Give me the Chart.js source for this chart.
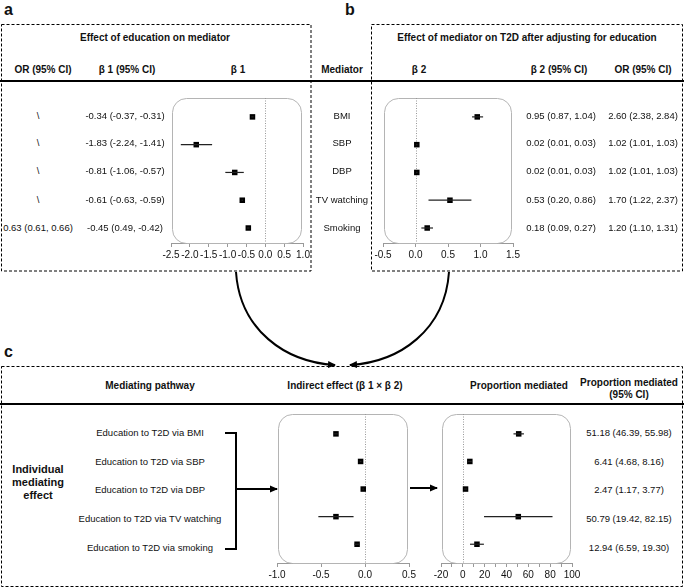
<!DOCTYPE html>
<html>
<head>
<meta charset="utf-8">
<script src="https://cdn.jsdelivr.net/npm/chart.js@4.4.0/dist/chart.umd.min.js"></script>
<style>
  html, body { margin: 0; padding: 0; background: #fff; }
  #fig { position: relative; width: 684px; height: 588px; overflow: hidden;
         font-family: "Liberation Sans", Arial, sans-serif; color: #111; }
  .t { position: absolute; white-space: nowrap; transform: translate(-50%, -50%);
       font-size: 9.5px; line-height: 1.2; text-align: center; }
  .h { font-weight: bold; font-size: 10px; }
  .big { font-weight: bold; font-size: 11px; }
  .lab { position: absolute; font-weight: bold; font-size: 16px; line-height: 1; }
  canvas { position: absolute; }
  svg { position: absolute; left: 0; top: 0; }
</style>
</head>
<body>
<div id="fig">
  <svg width="684" height="588">
    <defs>
      <marker id="ah" markerWidth="8" markerHeight="8" refX="7" refY="4" orient="auto" markerUnits="userSpaceOnUse">
        <path d="M0,0.5 L8,4 L0,7.5 z" fill="#000"/>
      </marker>
    </defs>
    <!-- dashed panel frames -->
    <rect x="1.5" y="24.5" width="309.5" height="246.5" fill="none" stroke="#000" stroke-width="1" stroke-dasharray="3,2"/>
    <rect x="371.5" y="24.5" width="311" height="246.5" fill="none" stroke="#000" stroke-width="1" stroke-dasharray="3,2"/>
    <rect x="1.5" y="366.5" width="681" height="220" fill="none" stroke="#000" stroke-width="1" stroke-dasharray="3,2"/>
    <!-- header rules -->
    <line x1="0" y1="81" x2="684" y2="81" stroke="#000" stroke-width="2"/>
    <line x1="0" y1="404" x2="684" y2="404" stroke="#000" stroke-width="2"/>
    <!-- curved arrows from a and b into c -->
    <path d="M236 272 C240 330 285 362 335 365" fill="none" stroke="#000" stroke-width="2" marker-end="url(#ah)"/>
    <path d="M449 272 C445 330 400 362 350 365" fill="none" stroke="#000" stroke-width="2" marker-end="url(#ah)"/>
    <!-- bracket for pathways -->
    <path d="M225 433 H236 V549 H225" fill="none" stroke="#000" stroke-width="2"/>
    <line x1="236" y1="489" x2="277" y2="489" stroke="#000" stroke-width="2" marker-end="url(#ah)"/>
    <line x1="410" y1="488" x2="437" y2="488" stroke="#000" stroke-width="2" marker-end="url(#ah)"/>
  </svg>
  <div class="lab" style="left:4px; top:2px;">a</div>
  <div class="lab" style="left:345px; top:2px;">b</div>
  <div class="lab" style="left:4px; top:344px;">c</div>
  <canvas id="plotA"></canvas>
  <canvas id="plotB"></canvas>
  <canvas id="plotInd"></canvas>
  <canvas id="plotProp"></canvas>
</div>

<script>
// mediators / pathways
const mediators = ['BMI', 'SBP', 'DBP', 'TV watching', 'Smoking'];
const pathways = ['Education to T2D via BMI', 'Education to T2D via SBP', 'Education to T2D via DBP',
                  'Education to T2D via TV watching', 'Education to T2D via smoking'];

// panel a: effect of education on mediator
const beta1 = [-0.34, -1.83, -0.81, -0.61, -0.45];
const beta1Lo = [-0.37, -2.24, -1.06, -0.63, -0.49];
const beta1Hi = [-0.31, -1.41, -0.57, -0.59, -0.42];
const beta1Text = ['-0.34 (-0.37, -0.31)', '-1.83 (-2.24, -1.41)', '-0.81 (-1.06, -0.57)',
                   '-0.61 (-0.63, -0.59)', '-0.45 (0.49, -0.42)'];
const orAText = ['\\', '\\', '\\', '\\', '0.63 (0.61, 0.66)'];

// panel b: effect of mediator on T2D
const beta2 = [0.95, 0.02, 0.02, 0.53, 0.18];
const beta2Lo = [0.87, 0.01, 0.01, 0.20, 0.09];
const beta2Hi = [1.04, 0.03, 0.03, 0.86, 0.27];
const beta2Text = ['0.95 (0.87, 1.04)', '0.02 (0.01, 0.03)', '0.02 (0.01, 0.03)',
                   '0.53 (0.20, 0.86)', '0.18 (0.09, 0.27)'];
const orBText = ['2.60 (2.38, 2.84)', '1.02 (1.01, 1.03)', '1.02 (1.01, 1.03)',
                 '1.70 (1.22, 2.37)', '1.20 (1.10, 1.31)'];

// panel c: indirect effect and proportion mediated
const indirect = [-0.33, -0.05, -0.02, -0.33, -0.09];
const indirectLo = [-0.35, -0.06, -0.03, -0.53, -0.12];
const indirectHi = [-0.31, -0.04, -0.01, -0.13, -0.06];
const propMed = [51.18, 6.41, 2.47, 50.79, 12.94];
const propLo = [46.39, 4.68, 1.17, 19.42, 6.59];
const propHi = [55.98, 8.16, 3.77, 82.15, 19.30];

const fig = document.getElementById('fig');
function text(str, cx, cy, cls) {
  const d = document.createElement('div');
  d.className = 't' + (cls ? ' ' + cls : '');
  d.innerHTML = str;
  d.style.left = cx + 'px';
  d.style.top = cy + 'px';
  fig.appendChild(d);
}

// headers
text('Effect of education on mediator', 155, 38, 'h');
text('Effect of mediator on T2D after adjusting for education', 527, 38, 'h');
text('OR (95% CI)', 43, 70, 'h');
text('&beta; 1 (95% CI)', 127, 70, 'h');
text('&beta; 1', 238, 70, 'h');
text('Mediator', 342, 70, 'h');
text('&beta; 2', 419, 70, 'h');
text('&beta; 2 (95% CI)', 559, 70, 'h');
text('OR (95% CI)', 643, 70, 'h');
text('Mediating pathway', 150, 386, 'h');
text('Indirect effect (&beta; 1 &times; &beta; 2)', 345, 386, 'h');
text('Proportion mediated', 519, 386, 'h');
text('Proportion mediated<br>(95% CI)', 629, 389, 'h');
text('Individual<br>mediating<br>effect', 38, 483, 'big');

// table rows
const rowsAB = [116, 143, 171, 200, 228];
const rowsC = [433, 462, 490, 519, 548];
mediators.forEach((m, i) => {
  text(orAText[i], 38, rowsAB[i]);
  text(beta1Text[i], 125, rowsAB[i]);
  text(m, 342, rowsAB[i]);
  text(beta2Text[i], 561, rowsAB[i]);
  text(orBText[i], 643, rowsAB[i]);
  text(pathways[i], 150, rowsC[i]);
  text(propMed[i].toFixed(2) + ' (' + propLo[i].toFixed(2) + ', ' + propHi[i].toFixed(2) + ')', 629, rowsC[i]);
});

// rounded frame + dotted zero line behind the marks
const framePlugin = {
  id: 'frame',
  beforeDatasetsDraw(chart) {
    const { ctx, chartArea: a, scales: { x } } = chart;
    ctx.save();
    ctx.strokeStyle = '#b4b4b4';
    ctx.lineWidth = 1;
    ctx.beginPath();
    ctx.roundRect(a.left + 1.5, a.top + 0.5, a.width - 3, a.height, 14);
    ctx.stroke();
    const x0 = Math.round(x.getPixelForValue(0)) + 0.5;
    ctx.strokeStyle = '#999';
    ctx.setLineDash([1, 1.5]);
    ctx.beginPath();
    ctx.moveTo(x0, a.top);
    ctx.lineTo(x0, a.bottom);
    ctx.stroke();
    ctx.restore();
  }
};

function forest(id, box, est, lo, hi, xr, yr, fmt) {
  const padX = 14, padTop = 3, axisH = 20;
  const cv = document.getElementById(id);
  cv.width = box.right - box.left + 2 * padX;
  cv.height = box.bottom - box.top + padTop + axisH;
  cv.style.left = (box.left - padX) + 'px';
  cv.style.top = (box.top - padTop) + 'px';

  const whiskers = est.map((_, i) => ({
    data: [{ x: lo[i], y: i }, { x: hi[i], y: i }],
    showLine: true, borderColor: '#222', borderWidth: 1.2, pointRadius: 0
  }));
  const points = {
    data: est.map((v, i) => ({ x: v, y: i })),
    pointStyle: 'rect', pointRadius: 3.9, backgroundColor: '#000', borderColor: '#000', borderWidth: 0
  };

  new Chart(cv, {
    type: 'scatter',
    data: { datasets: [...whiskers, points] },
    options: {
      responsive: false,
      animation: false,
      layout: { padding: { left: padX, right: padX, top: padTop, bottom: 0 } },
      plugins: { legend: { display: false }, tooltip: { enabled: false } },
      scales: {
        x: {
          type: 'linear', min: xr[0], max: xr[1],
          border: { color: '#999' },
          grid: { drawOnChartArea: false, tickLength: 4, color: '#999' },
          ticks: { stepSize: xr[2], autoSkip: false, maxRotation: 0, padding: 2, color: '#111',
                   font: { size: 10, family: '"Liberation Sans", Arial, sans-serif' }, callback: fmt },
          afterFit: s => { s.height = axisH; }
        },
        y: { type: 'linear', display: false, reverse: true, min: yr[0], max: yr[1] }
      }
    },
    plugins: [framePlugin]
  });
}

const dec1 = v => v.toFixed(1);
forest('plotA', { left: 171, right: 303, top: 97, bottom: 243 }, beta1, beta1Lo, beta1Hi,
       [-2.5, 1.0, 0.5], [-0.68, 4.54], dec1);
forest('plotB', { left: 383, right: 513, top: 97, bottom: 243 }, beta2, beta2Lo, beta2Hi,
       [-0.5, 1.5, 0.5], [-0.68, 4.54], dec1);
forest('plotInd', { left: 277, right: 409, top: 413, bottom: 563 }, indirect, indirectLo, indirectHi,
       [-1.0, 0.5, 0.5], [-0.72, 4.68], dec1);
forest('plotProp', { left: 441, right: 572, top: 413, bottom: 563 }, propMed, propLo, propHi,
       [-20, 100, 10], [-0.72, 4.68], v => (Math.round(v) % 20 === 0 ? String(Math.round(v)) : ''));
</script>
</body>
</html>
